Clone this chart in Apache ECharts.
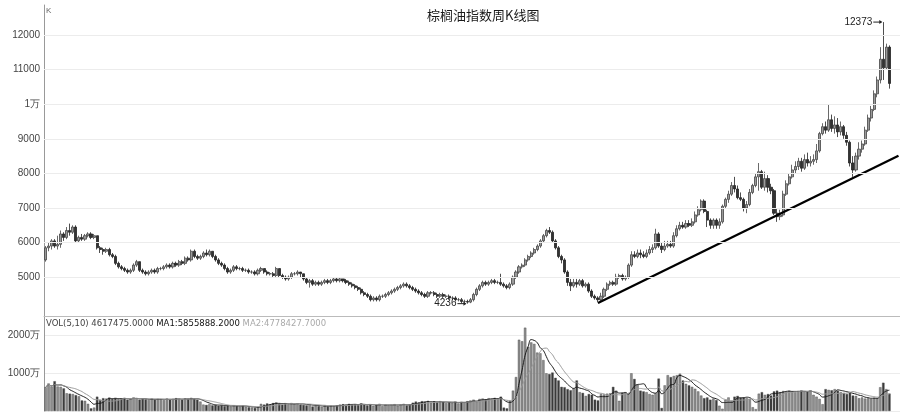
<!DOCTYPE html>
<html><head><meta charset="utf-8">
<script src="https://cdn.jsdelivr.net/npm/echarts@6.0.0/dist/echarts.min.js"></script>
<style>html,body{margin:0;padding:0;background:#fff}#c{width:900px;height:413px}</style>
</head><body><div id="c"></div>
<script>
const chartTitle = '棕榈油指数周K线图';
// weekly candles: [open, close, low, high]
const kline = [
[5500,5850,5450,5900],[5850,5900,5750,6000],[5900,6050,5800,6100],[6050,5900,5850,6100],[5900,5950,5800,6200],
[5950,6250,5850,6350],[6250,6150,6050,6300],[6150,6350,6100,6450],[6350,6300,6200,6550],[6300,6450,6250,6500],
[6450,6050,6000,6500],[6050,6150,6000,6200],[6150,6100,6050,6250],[6100,6200,6050,6250],[6200,6250,6150,6300],
[6250,6150,6100,6300],[6150,6200,6100,6250],[6200,5850,5800,6200],[5850,5800,5700,5900],[5800,5750,5650,5850],
[5750,5800,5700,5850],[5800,5650,5600,5850],[5650,5600,5550,5700],[5600,5400,5350,5650],[5400,5300,5250,5450],
[5300,5250,5200,5350],[5250,5200,5150,5300],[5200,5150,5100,5250],[5150,5200,5100,5250],[5200,5350,5150,5400],
[5350,5450,5300,5500],[5450,5200,5150,5450],[5200,5150,5100,5250],[5150,5100,5050,5200],[5100,5150,5050,5200],
[5150,5200,5100,5250],[5200,5150,5100,5250],[5150,5250,5100,5300],[5250,5250,5200,5300],[5250,5300,5200,5350],
[5300,5350,5250,5400],[5350,5300,5250,5400],[5300,5400,5250,5450],[5400,5350,5300,5450],[5350,5450,5300,5500],
[5450,5400,5350,5500],[5400,5550,5350,5600],[5550,5500,5450,5600],[5500,5750,5450,5800],[5750,5600,5550,5800],
[5600,5550,5500,5650],[5550,5600,5500,5650],[5600,5700,5550,5750],[5700,5650,5600,5800],[5650,5750,5600,5800],
[5750,5600,5550,5750],[5600,5500,5450,5650],[5500,5400,5350,5550],[5400,5350,5300,5450],[5350,5250,5200,5400],
[5250,5150,5100,5300],[5150,5200,5100,5250],[5200,5300,5150,5350],[5300,5250,5200,5350],[5250,5250,5200,5300],
[5250,5200,5150,5300],[5200,5200,5150,5250],[5200,5150,5100,5250],[5150,5150,5100,5200],[5150,5100,5050,5200],
[5100,5200,5050,5250],[5200,5250,5150,5300],[5250,5150,5100,5250],[5150,5100,5050,5200],[5100,5100,5050,5150],
[5100,5050,5000,5150],[5050,5250,5000,5300],[5250,5050,5000,5250],[5050,5000,4950,5100],[5000,4950,4900,5050],
[4950,5000,4900,5050],[5000,5100,4950,5150],[5100,5100,5050,5150],[5100,5150,5050,5200],[5150,5100,5000,5150],
[5100,4950,4900,5100],[4950,4850,4800,5000],[4850,4900,4700,4950],[4900,4800,4750,4950],[4800,4850,4750,4900],
[4850,4800,4750,4900],[4800,4850,4750,4900],[4850,4900,4800,4950],[4900,4850,4800,4950],[4850,4900,4800,4950],
[4900,4950,4850,5000],[4950,4900,4850,5000],[4900,4950,4850,5000],[4950,4900,4850,4950],[4900,4850,4800,4950],
[4850,4800,4750,4900],[4800,4750,4700,4850],[4750,4700,4650,4800],[4700,4650,4600,4750],[4650,4550,4500,4700],
[4550,4500,4450,4600],[4500,4450,4400,4550],[4450,4350,4300,4500],[4350,4400,4300,4450],[4400,4350,4300,4450],
[4350,4450,4300,4500],[4450,4450,4400,4500],[4450,4500,4400,4550],[4500,4550,4450,4600],[4550,4600,4500,4650],
[4600,4650,4550,4700],[4650,4700,4600,4750],[4700,4750,4650,4800],[4750,4800,4700,4850],[4800,4750,4700,4850],
[4750,4700,4650,4800],[4700,4650,4600,4750],[4650,4600,4550,4700],[4600,4550,4500,4650],[4550,4500,4450,4600],
[4500,4450,4400,4550],[4450,4550,4400,4600],[4550,4550,4500,4600],[4550,4500,4450,4600],[4500,4450,4400,4550],
[4450,4500,4400,4550],[4500,4450,4400,4550],[4450,4450,4400,4500],[4450,4400,4350,4500],[4400,4400,4350,4450],
[4400,4350,4300,4450],[4350,4350,4300,4400],[4350,4300,4250,4400],[4300,4300,4250,4350],[4300,4280,4236,4350],
[4280,4350,4250,4400],[4350,4500,4300,4550],[4500,4650,4450,4700],[4650,4750,4600,4800],[4750,4850,4700,4900],
[4850,4800,4750,4900],[4800,4850,4750,4900],[4850,4900,4800,4950],[4900,4850,4800,4950],[4850,4850,4800,4900],
[4850,4800,4750,5100],[4800,4750,4700,4850],[4750,4700,4650,4800],[4700,4800,4650,4850],[4800,5000,4750,5050],
[5000,5150,4950,5200],[5150,5300,5100,5350],[5300,5350,5250,5400],[5350,5500,5300,5550],[5500,5600,5450,5650],
[5600,5700,5550,5750],[5700,5800,5650,5850],[5800,5900,5750,5950],[5900,6050,5850,6100],[6050,6200,6000,6250],
[6200,6350,6150,6400],[6350,6300,6250,6450],[6300,6050,6000,6350],[6050,5850,5800,6100],[5850,5600,5550,5900],
[5600,5500,5400,5650],[5500,5150,5100,5550],[5150,4850,4750,5200],[4850,4750,4600,4950],[4750,4850,4700,4950],
[4850,4800,4700,4950],[4800,4900,4750,4950],[4900,4750,4700,4950],[4750,4800,4700,4850],[4800,4600,4550,4850],
[4600,4450,4400,4650],[4450,4400,4350,4500],[4400,4350,4280,4450],[4350,4450,4300,4550],[4450,4650,4400,4700],
[4650,4800,4600,4850],[4800,4850,4750,4900],[4850,4800,4750,4900],[4800,5000,4750,5100],[5000,5050,4950,5100],
[5050,4950,4900,5100],[4950,5000,4900,5050],[5000,5350,4950,5400],[5350,5650,5300,5750],[5650,5600,5550,5750],
[5600,5700,5550,5800],[5700,5650,5550,5800],[5650,5600,5550,5750],[5600,5700,5550,5800],[5700,5800,5650,5900],
[5800,5850,5700,5950],[5850,6250,5800,6400],[6250,5900,5850,6300],[5900,5800,5700,6000],[5800,5900,5750,6050],
[5900,5950,5850,6050],[5950,5900,5850,6050],[5900,6200,5850,6300],[6200,6400,6150,6500],[6400,6500,6350,6600],
[6500,6450,6400,6600],[6450,6550,6400,6650],[6550,6500,6450,6650],[6500,6600,6450,6700],[6600,6800,6550,6900],
[6800,6950,6750,7050],[6950,7200,6900,7250],[7200,6900,6850,7250],[6900,6650,6450,6950],[6650,6500,6400,6700],
[6500,6650,6400,6700],[6650,6500,6400,6700],[6500,6600,6400,6700],[6600,7050,6550,7100],[7050,7250,7000,7300],
[7250,7400,7150,7500],[7400,7650,7350,7750],[7650,7550,7450,7900],[7550,7300,7250,7650],[7300,7250,7200,7450],
[7250,7000,6900,7300],[7000,7100,6850,7200],[7100,7450,7050,7550],[7450,7650,7400,7700],[7650,7900,7600,8000],
[7900,8050,7500,8300],[8050,7600,7550,8100],[7600,7850,7500,8050],[7850,7600,7450,7950],[7600,7500,7400,7700],
[7500,6850,6800,7550],[6850,6750,6600,7000],[6750,6800,6650,6950],[6800,7400,6750,7500],[7400,7700,7350,7800],
[7700,7900,7650,8000],[7900,8100,7850,8250],[8100,8200,8000,8350],[8200,8350,8100,8450],[8350,8150,8050,8450],
[8150,8400,8100,8550],[8400,8300,8200,8600],[8300,8350,8200,8500],[8350,8400,8250,8550],[8400,8650,8300,8850],
[8650,9150,8600,9200],[9150,9350,9100,9450],[9350,9250,9150,9500],[9250,9550,9200,9980],[9550,9300,9200,9700],
[9300,9400,9150,9650],[9400,9200,9050,9600],[9200,9350,9100,9500],[9350,9100,9000,9400],[9100,8900,8800,9200],
[8900,8300,8200,8950],[8300,8100,7900,8500],[8100,8500,8050,8600],[8500,8700,8400,8900],[8700,8850,8600,8950],
[8850,9250,8800,9350],[9250,9600,9200,9700],[9600,9850,9500,9950],[9850,10300,9800,10400],[10300,10700,10200,10800],
[10700,11300,10600,11650],[11300,11050,10700,12373],[11050,11650,11000,11750],[11650,10600,10450,11700]
];
// weekly volume, unit: 万
const volume = [
630,730,650,790,650,640,600,470,460,450,
420,390,280,270,190,70,90,380,300,340,
330,350,320,340,310,330,350,300,320,360,
340,300,320,310,290,330,300,320,310,290,
330,300,320,340,310,300,330,320,350,320,
300,250,170,160,180,150,160,140,150,130,
140,120,150,130,120,140,110,100,90,80,
100,190,170,200,180,210,230,190,170,200,
180,210,190,200,170,160,150,180,120,140,
130,110,150,120,140,130,150,170,180,160,
190,170,180,160,200,170,150,180,140,160,
190,130,170,150,160,180,140,170,190,150,
170,220,250,230,260,240,270,220,250,230,
260,240,210,230,220,250,200,240,230,260,
280,300,250,320,330,310,340,320,350,330,
380,90,70,270,540,900,1890,1850,2210,1700,
1820,1780,1550,1530,1350,1000,980,1020,880,810,
640,630,580,550,600,810,500,480,400,450,
430,300,280,450,440,460,470,640,540,270,
480,500,460,1000,850,700,540,520,500,450,
430,470,860,80,680,950,900,930,950,990,
810,720,680,640,590,520,410,340,360,300,
330,290,140,60,300,360,270,380,400,350,
360,340,320,100,50,460,500,430,450,410,
520,540,500,530,510,540,520,500,530,540,
520,510,540,430,380,320,180,580,560,550,
580,540,500,480,450,500,410,400,340,360,
330,340,320,350,340,630,750,580,462
];
const trendLine = [[182, 4255], [281, 8510]];
const priceTicks = [5000, 6000, 7000, 8000, 9000, 10000, 11000, 12000];
const priceTickLabels = ['5000', '6000', '7000', '8000', '9000', '1万', '11000', '12000'];
const volTicks = [1000, 2000];
const volTickLabels = ['1000万', '2000万'];
const volLegend = ['VOL(5,10) 4617475.0000', 'MA1:5855888.2000', 'MA2:4778427.7000'];
const highMark = [276, 12373];
const lowMark = [139, 4236];
const emptyTail = 3;

const total = kline.length + emptyTail;
const categories = Array.from({length: total}, (_, i) => 'W' + (i + 1));

function movingAvg(n) {
  return volume.map((_, i) => {
    const s = Math.max(0, i - n + 1);
    let sum = 0;
    for (let k = s; k <= i; k++) sum += volume[k];
    return +(sum / (i - s + 1)).toFixed(1);
  });
}

const chart = echarts.init(document.getElementById('c'), null, {renderer: 'canvas'});
const numFont = 'Liberation Sans';

const option = {
  animation: false,
  backgroundColor: '#fff',
  title: {
    text: chartTitle, left: 422, top: 4,
    textStyle: {fontSize: 13, fontWeight: 'normal', color: '#1a1a1a', fontFamily: 'Noto Sans CJK SC'}
  },
  grid: [
    {left: 44, right: 0, top: 5, height: 311},
    {left: 44, right: 0, top: 316, height: 95}
  ],
  xAxis: [
    {type: 'category', gridIndex: 0, data: categories, boundaryGap: true,
     axisLine: {show: true, lineStyle: {color: '#bbb'}}, axisTick: {show: false}, axisLabel: {show: false}, splitLine: {show: false}},
    {type: 'category', gridIndex: 1, data: categories, boundaryGap: true,
     axisLine: {show: false}, axisTick: {show: false}, axisLabel: {show: false}, splitLine: {show: false}}
  ],
  yAxis: [
    {type: 'value', gridIndex: 0, min: 3879, max: 12867, scale: true,
     axisLine: {show: true, lineStyle: {color: '#999'}}, axisTick: {show: false}, splitLine: {show: false},
     axisLabel: {margin: 4, color: '#444', fontSize: 10, fontFamily: numFont,
       customValues: priceTicks,
       formatter: v => { const k = priceTicks.indexOf(v); return k >= 0 ? priceTickLabels[k] : ''; }}},
    {type: 'value', gridIndex: 1, min: 0, max: 2520, interval: 1000,
     axisLine: {show: true, lineStyle: {color: '#999'}}, axisTick: {show: false},
     splitLine: {show: true, lineStyle: {color: '#ececec'}},
     axisLabel: {margin: 4, color: '#444', fontSize: 10, fontFamily: numFont, showMinLabel: false, showMaxLabel: false,
       formatter: v => { const k = volTicks.indexOf(v); return k >= 0 ? volTickLabels[k] : ''; }}}
  ],
  series: [
    {type: 'line', xAxisIndex: 0, yAxisIndex: 0, data: categories.map(() => null), z: 1, silent: true,
     symbol: 'none',
     markLine: {silent: true, symbol: ['none', 'none'], label: {show: false},
       lineStyle: {color: '#ececec', type: 'solid', width: 1},
       data: priceTicks.map(v => ({yAxis: v}))}},
    {type: 'candlestick', xAxisIndex: 0, yAxisIndex: 0, data: kline, barWidth: 2.6, z: 3,
     itemStyle: {color: '#9a9a9a', color0: '#333', borderColor: '#444', borderColor0: '#222', borderWidth: 0.8}},
    {type: 'line', xAxisIndex: 0, yAxisIndex: 0, data: trendLine, z: 4, symbol: 'none', connectNulls: true,
     lineStyle: {color: '#000', width: 2.3}},
    {type: 'bar', xAxisIndex: 1, yAxisIndex: 1, barWidth: 2.4, z: 2,
     data: volume.map((v, i) => ({value: v, itemStyle: {
       color: kline[i][1] >= kline[i][0] ? '#8e8e8e' : '#3a3a3a',
       borderColor: '#4a4a4a', borderWidth: 0.4}}))},
    {type: 'line', xAxisIndex: 1, yAxisIndex: 1, data: movingAvg(5), smooth: true, symbol: 'none', z: 5,
     lineStyle: {color: '#1a1a1a', width: 1}},
    {type: 'line', xAxisIndex: 1, yAxisIndex: 1, data: movingAvg(10), smooth: true, symbol: 'none', z: 5,
     lineStyle: {color: '#9a9a9a', width: 1}}
  ]
};
chart.setOption(option);

const pH = chart.convertToPixel({gridIndex: 0}, highMark);
const pL = chart.convertToPixel({gridIndex: 0}, lowMark);
function arrow(p, label) {
  return [
    {type: 'text', x: p[0] - 11, y: p[1], z: 10,
     style: {text: label, textAlign: 'right', textVerticalAlign: 'middle', fontSize: 10, fontFamily: numFont, fill: '#222'}},
    {type: 'line', z: 10, shape: {x1: p[0] - 10, y1: p[1], x2: p[0] - 2, y2: p[1]}, style: {stroke: '#222', lineWidth: 1}},
    {type: 'polygon', z: 10, shape: {points: [[p[0] - 1, p[1]], [p[0] - 4, p[1] - 2], [p[0] - 4, p[1] + 2]]}, style: {fill: '#222'}}
  ];
}
chart.setOption({
  graphic: [
    {type: 'text', x: 46, y: 7, z: 10, style: {text: 'K', fontSize: 8, fontFamily: numFont, fill: '#666'}},
    {type: 'text', x: 46, y: 319, z: 10, style: {
      text: '{a|' + volLegend[0] + ' }{b|' + volLegend[1] + ' }{c|' + volLegend[2] + '}',
      rich: {
        a: {fontSize: 8.5, fontFamily: 'DejaVu Sans', fill: '#444'},
        b: {fontSize: 8.5, fontFamily: 'DejaVu Sans', fill: '#111'},
        c: {fontSize: 8.5, fontFamily: 'DejaVu Sans', fill: '#aaa'}
      }}},
    ...arrow(pH, String(highMark[1])),
    ...arrow(pL, String(lowMark[1]))
  ]
});
</script></body></html>
